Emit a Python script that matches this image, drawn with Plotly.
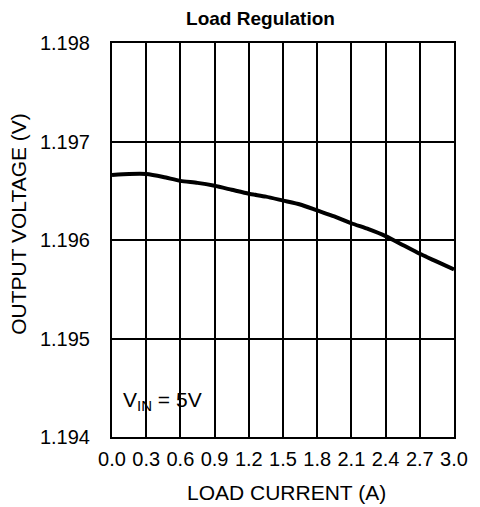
import plotly.graph_objects as go

# Data
load_current = [0.0, 0.15, 0.3, 0.45, 0.6, 0.75, 0.9, 1.05, 1.2, 1.35, 1.5, 1.65, 1.8, 1.95, 2.1, 2.25, 2.4, 2.55, 2.7, 2.85, 3.0]
output_voltage = [1.19666, 1.19667, 1.19667, 1.19664, 1.19660, 1.19658, 1.19655, 1.19651, 1.19647, 1.19644, 1.19640, 1.19636, 1.19630, 1.19624, 1.19617, 1.19611, 1.19604, 1.19595, 1.19586, 1.19578, 1.19570]
x_ticks = [0.0, 0.3, 0.6, 0.9, 1.2, 1.5, 1.8, 2.1, 2.4, 2.7, 3.0]
y_ticks = [1.194, 1.195, 1.196, 1.197, 1.198]

FONT = "Liberation Sans, Arial, sans-serif"

fig = go.Figure()
fig.add_trace(go.Scatter(
    x=load_current, y=output_voltage, mode="lines",
    line=dict(color="black", width=4, shape="spline", smoothing=0.6),
    showlegend=False, hoverinfo="skip",
))

fig.update_layout(
    width=472, height=499,
    margin=dict(l=104, r=16, t=35, b=70),
    paper_bgcolor="white", plot_bgcolor="white",
    font=dict(family=FONT, color="black", size=20),
    title=dict(text="<b>Load Regulation</b>", x=0.535, xanchor="center", xref="container",
               y=0.98, yanchor="middle", yref="container",
               font=dict(size=19, family=FONT, color="black")),
    xaxis=dict(
        range=[0, 3], tickvals=x_ticks, ticktext=[f"{v:.1f}" for v in x_ticks],
        showgrid=True, gridcolor="black", gridwidth=1.5,
        showline=True, linecolor="black", linewidth=2, mirror=True,
        ticks="", zeroline=False, ticklabelstandoff=3,
        tickfont=dict(size=20, family=FONT, color="black"),
    ),
    yaxis=dict(
        range=[1.194, 1.198], tickvals=y_ticks, ticktext=[f"{v:.3f}" for v in y_ticks],
        showgrid=True, gridcolor="black", gridwidth=1.5,
        showline=True, linecolor="black", linewidth=2, mirror=True,
        ticks="", zeroline=False, ticklabelstandoff=16,
        tickfont=dict(size=20, family=FONT, color="black"),
    ),
    annotations=[
        dict(text="LOAD CURRENT (A)", xref="paper", yref="paper", x=0.509, y=-0.142,
             xanchor="center", yanchor="middle", showarrow=False,
             font=dict(size=21, family=FONT, color="black")),
        dict(text="OUTPUT VOLTAGE (V)", xref="paper", yref="paper", x=-0.272, y=0.541,
             xanchor="center", yanchor="middle", showarrow=False, textangle=-90,
             font=dict(size=21, family=FONT, color="black")),
        dict(text="V<sub><span style='font-size:15px'>IN</span></sub> = 5V", xref="x", yref="y",
             x=0.083, y=1.19437,
             xanchor="left", yanchor="middle", showarrow=False,
             font=dict(size=21, family=FONT, color="black")),
    ],
)

fig.write_html("out.html")
